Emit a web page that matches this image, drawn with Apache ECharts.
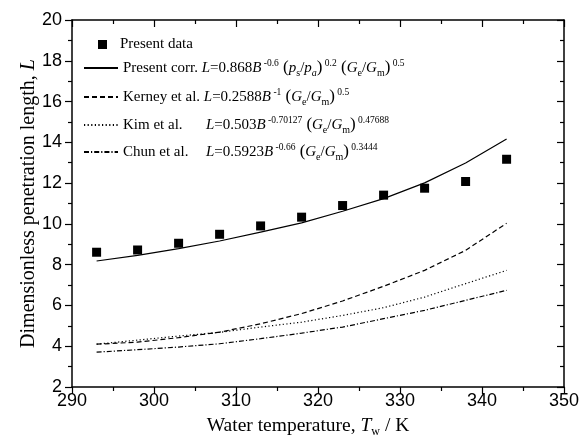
<!DOCTYPE html>
<html>
<head>
<meta charset="utf-8">
<script src="https://cdn.jsdelivr.net/npm/echarts@6.0.0/dist/echarts.min.js"></script>
<style>
html,body{margin:0;padding:0;background:#fff;}
#chart{width:581px;height:443px;}
</style>
</head>
<body>
<div id="chart"></div>
<script>
// ---- data ----
const temps = [293, 298, 303, 308, 313, 318, 323, 328, 333, 338, 343];
const presentData = [8.61, 8.72, 9.05, 9.49, 9.90, 10.33, 10.90, 11.41, 11.75, 12.08, 13.17];
const presentCorr = [8.18, 8.46, 8.79, 9.16, 9.60, 10.05, 10.62, 11.24, 12.01, 12.99, 14.16];
const kerney = [4.10, 4.20, 4.42, 4.69, 5.10, 5.60, 6.22, 6.94, 7.72, 8.70, 10.03];
const kim = [4.10, 4.30, 4.50, 4.68, 4.94, 5.18, 5.51, 5.89, 6.41, 7.07, 7.72];
const chun = [3.71, 3.83, 3.96, 4.12, 4.37, 4.64, 4.94, 5.35, 5.76, 6.25, 6.74];
const seriesNames = ['Present data', 'Present corr.', 'Kerney et al.', 'Kim et al.', 'Chun et al.'];
const xTicks = {min: 290, max: 350, interval: 10};
const yTicks = {min: 2, max: 20, interval: 2};

const pairs = (ys) => temps.map((t, i) => [t, ys[i]]);

const serif = 'Liberation Serif, Times New Roman, serif';
const sans = 'Liberation Sans, Arial, sans-serif';

const rich = {
  t: {fontFamily: serif, fontSize: 15, lineHeight: 20, color: '#000'},
  i: {fontFamily: serif, fontSize: 15, lineHeight: 20, fontStyle: 'italic', color: '#000'},
  sup: {fontFamily: serif, fontSize: 9.5, lineHeight: 12, verticalAlign: 'top', color: '#000'},
  sub: {fontFamily: serif, fontSize: 10, lineHeight: 10, verticalAlign: 'bottom', color: '#000'},
  subi: {fontFamily: serif, fontSize: 10, lineHeight: 10, verticalAlign: 'bottom', fontStyle: 'italic', color: '#000'},
  p: {fontFamily: serif, fontSize: 17, lineHeight: 20, color: '#000'},
  n: {fontFamily: serif, fontSize: 15, lineHeight: 20, width: 83, color: '#000'},
  pad: {fontFamily: serif, fontSize: 15, width: 8, lineHeight: 20}
};

const GeGm = '{i|G}{sub|e}{t|/}{i|G}{sub|m}';
const legendText = {
  'Present data': '{pad|}{t|Present data}',
  'Present corr.': '{t|Present corr. }{i|L}{t|=0.868}{i|B}{sup| -0.6}{p| (}{i|p}{sub|s}{t|/}{i|p}{subi|a}{p|)}{sup| 0.2}{p| (}' + GeGm + '{p|)}{sup| 0.5}',
  'Kerney et al.': '{t|Kerney et al. }{i|L}{t|=0.2588}{i|B}{sup| -1}{p| (}' + GeGm + '{p|)}{sup| 0.5}',
  'Kim et al.': '{n|Kim et al.}{i|L}{t|=0.503}{i|B}{sup| -0.70127}{p| (}' + GeGm + '{p|)}{sup| 0.47688}',
  'Chun et al.': '{n|Chun et al.}{i|L}{t|=0.5923}{i|B}{sup| -0.66}{p| (}' + GeGm + '{p|)}{sup| 0.3444}'
};

const legendCenters = [47, 68, 97, 125, 152];
const legends = seriesNames.map((nm, k) => ({
  data: [nm],
  orient: 'vertical',
  left: k === 0 ? 98 : 83,
  top: legendCenters[k] - 10,
  padding: 0,
  itemWidth: k === 0 ? 9 : 34,
  itemHeight: k === 0 ? 9 : 12,
  itemGap: 0,
  selectedMode: false,
  itemStyle: k === 0 ? {color: '#000', opacity: 1} : {opacity: 0, color: 'transparent', borderWidth: 0},
  formatter: (name) => legendText[name],
  textStyle: {fontFamily: serif, fontSize: 15, color: '#000', rich: rich}
}));

const axisLineStyle = {color: '#000', width: 1.5};
const mkX = (pos, inside, showLabel) => ({
  type: 'value', position: pos, min: xTicks.min, max: xTicks.max, interval: xTicks.interval,
  axisLine: {show: true, onZero: false, lineStyle: axisLineStyle},
  axisTick: {show: true, inside: inside, length: 7, lineStyle: {color: '#000', width: 1.2}},
  minorTick: {show: true, splitNumber: 2, length: 4, lineStyle: {color: '#000', width: 1.2}},
  axisLabel: {show: showLabel, fontFamily: sans, fontSize: 18, color: '#000', margin: 5},
  splitLine: {show: false}
});
const mkY = (pos, inside, showLabel) => ({
  type: 'value', position: pos, min: yTicks.min, max: yTicks.max, interval: yTicks.interval,
  axisLine: {show: true, onZero: false, lineStyle: axisLineStyle},
  axisTick: {show: true, inside: inside, length: 7, lineStyle: {color: '#000', width: 1.2}},
  minorTick: {show: true, splitNumber: 2, length: 4, lineStyle: {color: '#000', width: 1.2}},
  axisLabel: {show: showLabel, fontFamily: sans, fontSize: 18, color: '#000', margin: 10},
  splitLine: {show: false}
});

const xBottom = mkX('bottom', false, true);
xBottom.name = '{t|Water temperature, }{i|T}{sub|w}{t| / K}';
xBottom.nameLocation = 'middle';
xBottom.nameGap = 27;
xBottom.nameTextStyle = {fontFamily: serif, fontSize: 19.5, color: '#000', padding: [0, 20, 0, 0], rich: {
  t: {fontFamily: serif, fontSize: 19.5, lineHeight: 24, color: '#000'},
  i: {fontFamily: serif, fontSize: 19.5, lineHeight: 24, fontStyle: 'italic', color: '#000'},
  sub: {fontFamily: serif, fontSize: 12, lineHeight: 12, verticalAlign: 'bottom', color: '#000'}
}};
const yLeft = mkY('left', false, true);
yLeft.name = '{t|Dimensionless penetration length, }{i|L}';
yLeft.nameLocation = 'middle';
yLeft.nameGap = 31;
yLeft.nameMoveOverlap = false;
yLeft.nameTextStyle = {fontFamily: serif, fontSize: 20, color: '#000', rich: {
  t: {fontFamily: serif, fontSize: 20, lineHeight: 24, color: '#000'},
  i: {fontFamily: serif, fontSize: 20, lineHeight: 24, fontStyle: 'italic', color: '#000'}
}};

const lineSeries = (name, ys, type) => ({
  name: name, type: 'line', data: pairs(ys), xAxisIndex: 0, yAxisIndex: 0,
  symbol: 'none', showSymbol: false, smooth: false,
  lineStyle: {color: '#000', width: 1.2, type: type},
  itemStyle: {color: '#000'},
  z: 2, animation: false
});

const option = {
  backgroundColor: '#fff',
  animation: false,
  grid: {left: 72, right: 17, top: 20, bottom: 56, containLabel: false, outerBoundsMode: 'none'},
  legend: legends,
  xAxis: [xBottom, mkX('top', true, false)],
  yAxis: [yLeft, mkY('right', true, false)],
  series: [
    {name: seriesNames[0], type: 'scatter', data: pairs(presentData), symbol: 'rect', symbolSize: 9,
     itemStyle: {color: '#000', opacity: 1}, z: 3},
    lineSeries(seriesNames[1], presentCorr, 'solid'),
    lineSeries(seriesNames[2], kerney, [5, 3]),
    lineSeries(seriesNames[3], kim, [1.2, 2.4]),
    lineSeries(seriesNames[4], chun, [5, 2, 1.2, 2])
  ]
};

const chart = echarts.init(document.getElementById('chart'), null, {renderer: 'canvas'});
chart.setOption(option);
</script>
</body>
</html>
